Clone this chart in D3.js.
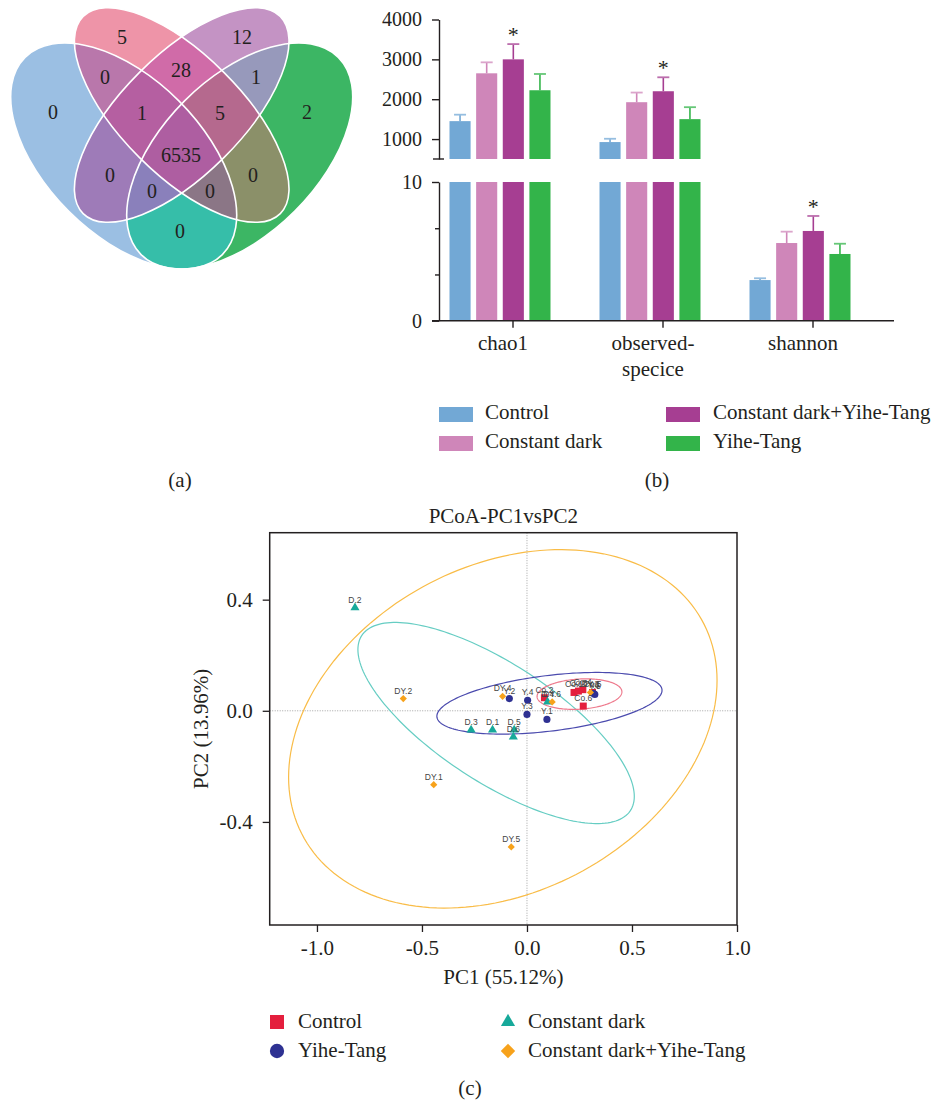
<!DOCTYPE html>
<meta charset="utf-8">
<style>

body {
  margin: 0;
  background: #fff;
}

text {
  font-family: "Liberation Serif", "Times New Roman", serif;
  fill: #231f20;
}

.pt-label {
  font-family: "Liberation Sans", Arial, sans-serif;
  font-size: 8.5px;
  fill: #444;
}

</style>
<svg width="936" height="1100"></svg>
<script src="https://d3js.org/d3.v7.min.js"></script>
<script>

// ---- (a) venn: counts for each region, named by the sets it belongs to
var vennRegions = ["A", "B", "C", "D", "AB", "AC", "AD", "BC", "BD", "CD", "ABC", "ABD", "ACD", "BCD", "ABCD"];
var vennCounts  = [0, 5, 12, 2, 0, 0, 0, 28, 0, 1, 1, 0, 0, 5, 6535];

// ---- (b) alpha diversity
var metrics = ["chao1", "observed-specice", "shannon"];
var metricLines = [["chao1"], ["observed-", "specice"], ["shannon"]];
var groups = ["Control", "Constant dark", "Constant dark+Yihe-Tang", "Yihe-Tang"];
var chao1Mean    = [1450, 2650, 3000, 2225];
var chao1Err     = [162, 275, 383, 408];
var observedMean = [925, 1925, 2200, 1500];
var observedErr  = [83, 242, 350, 300];
var shannonMean  = [2.93, 5.6, 6.47, 4.81];
var shannonErr   = [0.13, 0.82, 1.08, 0.74];
var starGroup = "Constant dark+Yihe-Tang";

// ---- (c) PCoA samples
var sampleNames = ["Co.1", "Co.2", "Co.3", "Co.4", "Co.5", "Co.6",
                   "Y.1", "Y.2", "Y.3", "Y.4", "Y.5", "Y.6",
                   "D.1", "D.2", "D.3", "D.4", "D.5", "D.6",
                   "DY.1", "DY.2", "DY.3", "DY.4", "DY.5", "DY.6"];
var sampleGroup = ["Control", "Control", "Control", "Control", "Control", "Control",
                   "Yihe-Tang", "Yihe-Tang", "Yihe-Tang", "Yihe-Tang", "Yihe-Tang", "Yihe-Tang",
                   "Constant dark", "Constant dark", "Constant dark", "Constant dark", "Constant dark", "Constant dark",
                   "Constant dark+Yihe-Tang", "Constant dark+Yihe-Tang", "Constant dark+Yihe-Tang",
                   "Constant dark+Yihe-Tang", "Constant dark+Yihe-Tang", "Constant dark+Yihe-Tang"];
var pc1 = [0.224, 0.083, 0.245, 0.266, 0.312, 0.268,
           0.095, -0.084, 0.0, 0.003, 0.323, 0.316,
           -0.164, -0.819, -0.266, 0.098, -0.061, -0.065,
           -0.444, -0.589, 0.302, -0.116, -0.075, 0.12];
var pc2 = [0.066, 0.047, 0.071, 0.076, 0.066, 0.017,
           -0.031, 0.044, -0.013, 0.038, 0.059, 0.063,
           -0.069, 0.371, -0.069, 0.032, -0.069, -0.094,
           -0.266, 0.044, 0.066, 0.052, -0.49, 0.032];

// confidence ellipses: centre, half ranges and correlation
var ellipseGroups = ["Constant dark+Yihe-Tang", "Constant dark", "Yihe-Tang", "Control"];
var ellipseCx = [-0.115, -0.147, 0.107, 0.25];
var ellipseCy = [-0.065, -0.044, 0.027, 0.06];
var ellipseSx = [1.02, 0.658, 0.536, 0.202];
var ellipseSy = [0.645, 0.362, 0.111, 0.055];
var ellipseR  = [0.27, -0.73, 0.42, 0.15];

var svg = d3.select("svg");

// =================== (a) Venn ===================

var vennShape = {
  A: {cx: 123.7, cy: 156, rx: 139.5, ry: 78, rot: 45},
  B: {cx: 181.7, cy: 115, rx: 139.4, ry: 60, rot: 45},
  C: {cx: 181.7, cy: 115, rx: 139.4, ry: 60, rot: -45},
  D: {cx: 239.7, cy: 156, rx: 139.5, ry: 78, rot: -45}
};
var vennFill = {
  A: "#9bbfe3", B: "#ee94a8", C: "#c493c4", D: "#3cb664",
  AB: "#b977ab", AC: "#9e7bb8", AD: "#36bea9", BC: "#d06ba8", BD: "#8b9069", CD: "#9799bb",
  ABC: "#b55fa1", ABD: "#8b7686", ACD: "#8a80bb", BCD: "#b5698e", ABCD: "#ae5ea1"
};
var vennLabelPos = {
  A: [53, 112], B: [122, 37], C: [242, 37], D: [307, 112],
  AB: [105, 77], AC: [110, 175], AD: [180, 231], BC: [181, 70], BD: [253, 175], CD: [256, 77],
  ABC: [142, 113], ABD: [210, 191], ACD: [152, 191], BCD: [220, 113], ABCD: [181, 155]
};

var defs = svg.append("defs");
var setKeys = ["A", "B", "C", "D"];

function placeEllipse(sel, s) {
  return sel.attr("cx", 0).attr("cy", 0)
      .attr("rx", s.rx).attr("ry", s.ry)
      .attr("transform", "translate(" + s.cx + "," + s.cy + ") rotate(" + s.rot + ")");
}

setKeys.forEach(function(k) {
  placeEllipse(defs.append("clipPath").attr("id", "clip-" + k).append("ellipse"), vennShape[k]);
});

var venn = svg.append("g").attr("class", "venn");

// painter's order: singles, then pairs, triples, all four
vennRegions.forEach(function(key) {
  var g = venn;
  key.split("").forEach(function(s) {
    g = g.append("g").attr("clip-path", "url(#clip-" + s + ")");
  });
  g.append("rect")
      .attr("x", 0).attr("y", 0)
      .attr("width", 380).attr("height", 290)
      .attr("fill", vennFill[key]);
});

setKeys.forEach(function(k) {
  placeEllipse(venn.append("ellipse"), vennShape[k])
      .attr("fill", "none")
      .attr("stroke", "#fff")
      .attr("stroke-width", 1.6);
});

venn.selectAll("text.count")
  .data(vennRegions)
  .enter().append("text")
    .attr("class", "count")
    .attr("x", function(d) { return vennLabelPos[d][0]; })
    .attr("y", function(d) { return vennLabelPos[d][1]; })
    .attr("dy", "0.35em")
    .attr("text-anchor", "middle")
    .style("font-size", "20px")
    .text(function(d, i) { return vennCounts[i]; });

svg.append("text").attr("x", 180).attr("y", 487).attr("text-anchor", "middle")
    .style("font-size", "21px").text("(a)");

// =================== (b) bars ===================

var barColor = d3.scaleOrdinal()
    .domain(groups)
    .range(["#72a8d5", "#cf86b9", "#a63e92", "#33b44a"]);

var means = [chao1Mean, observedMean, shannonMean];
var errs = [chao1Err, observedErr, shannonErr];
var rows = [];
metrics.forEach(function(m, i) {
  groups.forEach(function(g, j) {
    rows.push({metric: m, group: g, mean: means[i][j], err: errs[i][j]});
  });
});

var yHi = d3.scaleLinear().domain([500, 4000]).range([159, 19.5]);
var yLo = d3.scaleLinear().domain([0, 10]).range([320.7, 182]);

var x0 = d3.scaleBand().domain(metrics).range([425, 875]);
var x1 = d3.scaleBand().domain(groups).range([0, 101]).paddingInner(0.208);
var groupShift = (x0.bandwidth() - 101) / 2;

var bars = svg.append("g").attr("class", "bars");

function barX(d) { return x0(d.metric) + groupShift + x1(d.group); }
function isBig(d) { return d.mean > 10; }
function scaleFor(d) { return isBig(d) ? yHi : yLo; }

// lower (0-10) segment
bars.selectAll("rect.lo")
  .data(rows)
  .enter().append("rect")
    .attr("class", "lo")
    .attr("x", barX)
    .attr("width", x1.bandwidth())
    .attr("y", function(d) { return yLo(Math.min(d.mean, 10)); })
    .attr("height", function(d) { return yLo(0) - yLo(Math.min(d.mean, 10)); })
    .attr("fill", function(d) { return barColor(d.group); });

// upper (500-4000) segment
bars.selectAll("rect.hi")
  .data(rows.filter(isBig))
  .enter().append("rect")
    .attr("class", "hi")
    .attr("x", barX)
    .attr("width", x1.bandwidth())
    .attr("y", function(d) { return yHi(d.mean); })
    .attr("height", function(d) { return yHi(500) - yHi(d.mean); })
    .attr("fill", function(d) { return barColor(d.group); });

var err = bars.selectAll("g.err")
  .data(rows)
  .enter().append("g")
    .attr("class", "err")
    .attr("transform", function(d) { return "translate(" + (barX(d) + x1.bandwidth() / 2) + ",0)"; });

err.append("line")
    .attr("y1", function(d) { return scaleFor(d)(d.mean); })
    .attr("y2", function(d) { return scaleFor(d)(d.mean + d.err); })
    .attr("stroke", function(d) { return barColor(d.group); })
    .attr("stroke-width", 1.6);

err.append("line")
    .attr("x1", -6).attr("x2", 6)
    .attr("y1", function(d) { return scaleFor(d)(d.mean + d.err); })
    .attr("y2", function(d) { return scaleFor(d)(d.mean + d.err); })
    .attr("stroke", function(d) { return d3.interpolateRgb(barColor(d.group), "#fff")(0.25); })
    .attr("stroke-width", 1.8);

err.filter(function(d) { return d.group === starGroup; })
  .append("text")
    .attr("y", function(d) { return scaleFor(d)(d.mean + d.err) - 2; })
    .attr("text-anchor", "middle")
    .style("font-size", "22px")
    .text("*");

// axes
var axisFont = function(g) {
  g.attr("font-family", null).attr("font-size", null);
  g.selectAll("text").style("font-size", "20px").attr("fill", "#231f20");
  g.selectAll("line, path").attr("stroke", "#231f20").attr("stroke-width", 1.4);
};

svg.append("g")
    .attr("transform", "translate(439,0)")
    .call(d3.axisLeft(yHi).tickValues([1000, 2000, 3000, 4000]).tickFormat(d3.format("d"))
      .tickSize(7).tickSizeOuter(0).tickPadding(10))
    .call(axisFont);

svg.append("g")
    .attr("transform", "translate(439,0)")
    .call(d3.axisLeft(yLo).tickValues([0, 10]).tickFormat(d3.format("d"))
      .tickSize(7).tickSizeOuter(0).tickPadding(10))
    .call(axisFont);

svg.append("g")
    .attr("transform", "translate(439,0)")
    .call(d3.axisLeft(yLo).tickValues([10 / 3, 20 / 3]).tickSize(4).tickFormat("").tickSizeOuter(0))
    .call(axisFont)
    .select(".domain").remove();

// break mark at the bottom of the upper segment
svg.append("line")
    .attr("x1", 433).attr("x2", 444)
    .attr("y1", yHi(500)).attr("y2", yHi(500))
    .attr("stroke", "#231f20").attr("stroke-width", 1.4);

// x axis
svg.append("line")
    .attr("x1", 432).attr("x2", 894)
    .attr("y1", yLo(0)).attr("y2", yLo(0))
    .attr("stroke", "#231f20").attr("stroke-width", 1.6);

var xCat = svg.append("g").selectAll("g")
  .data(metrics)
  .enter().append("g")
    .attr("transform", function(d) { return "translate(" + (x0(d) + x0.bandwidth() / 2) + "," + yLo(0) + ")"; });

xCat.append("line")
    .attr("x1", 13).attr("x2", 13)
    .attr("y1", 0).attr("y2", 7)
    .attr("stroke", "#231f20").attr("stroke-width", 1.4);

xCat.each(function(d, i) {
  var t = d3.select(this).append("text")
      .attr("x", 3)
      .attr("y", 29)
      .attr("text-anchor", "middle")
      .style("font-size", "21px");
  metricLines[i].forEach(function(line, k) {
    t.append("tspan").attr("x", 3).attr("dy", k ? 26 : 0).text(line);
  });
});

// legend (b)
var legB = svg.append("g").selectAll("g")
  .data(groups)
  .enter().append("g")
    .attr("transform", function(d, i) {
      var col = (i === 0 || i === 1) ? 0 : 1;
      var row = (i === 0 || i === 2) ? 0 : 1;
      return "translate(" + (col ? 666 : 439) + "," + (407 + row * 29) + ")";
    });

legB.append("rect")
    .attr("width", 34).attr("height", 15)
    .attr("fill", function(d) { return barColor(d); });

legB.append("text")
    .attr("x", function(d, i) { return (i === 0 || i === 1) ? 46 : 47; })
    .attr("y", 12)
    .style("font-size", "21px")
    .text(function(d) { return d; });

svg.append("text").attr("x", 657).attr("y", 487).attr("text-anchor", "middle")
    .style("font-size", "21px").text("(b)");

// =================== (c) PCoA ===================

var px = d3.scaleLinear().domain([-1.225, 1.0]).range([269.7, 737]);
var py = d3.scaleLinear().domain([-0.771, 0.641]).range([925, 532.7]);

var ptColor = d3.scaleOrdinal()
    .domain(["Control", "Yihe-Tang", "Constant dark", "Constant dark+Yihe-Tang"])
    .range(["#e41f3d", "#2e3192", "#17a99a", "#f7a21b"]);
var ringColor = d3.scaleOrdinal()
    .domain(["Control", "Yihe-Tang", "Constant dark", "Constant dark+Yihe-Tang"])
    .range(["#ee7a8d", "#4b4bae", "#66cdc3", "#f9bc47"]);

function shapeFor(g, big) {
  var k = big ? 4 : 1;
  if (g === "Control") return d3.symbol(d3.symbolSquare, 49 * k)();
  if (g === "Yihe-Tang") return d3.symbol(d3.symbolCircle, 40 * k)();
  if (g === "Constant dark") return d3.symbol(d3.symbolTriangle, 36 * (big ? 2.4 : 1))();
  return d3.symbol(d3.symbolSquare, 26 * (big ? 4 : 1))();
}
function shapeRot(g) { return g === "Constant dark+Yihe-Tang" ? " rotate(45)" : ""; }

var plot = svg.append("g");

plot.append("text")
    .attr("x", (px.range()[0] + px.range()[1]) / 2)
    .attr("y", 523)
    .attr("text-anchor", "middle")
    .style("font-size", "21px")
    .text("PCoA-PC1vsPC2");

// zero reference lines
plot.append("line")
    .attr("x1", px(0)).attr("x2", px(0))
    .attr("y1", py.range()[1]).attr("y2", py.range()[0])
    .attr("stroke", "#9a9a9a").attr("stroke-width", 0.9).attr("stroke-dasharray", "1,1.5");
plot.append("line")
    .attr("x1", px.range()[0]).attr("x2", px.range()[1])
    .attr("y1", py(0)).attr("y2", py(0))
    .attr("stroke", "#9a9a9a").attr("stroke-width", 0.9).attr("stroke-dasharray", "1,1.5");

// ellipses
var ellipseLine = d3.line()
    .x(function(p) { return px(p[0]); })
    .y(function(p) { return py(p[1]); })
    .curve(d3.curveLinearClosed);

var angles = d3.range(0, 2 * Math.PI, Math.PI / 90);
ellipseGroups.forEach(function(g, i) {
  var r = ellipseR[i];
  var pts = angles.map(function(t) {
    return [ellipseCx[i] + ellipseSx[i] * Math.cos(t),
            ellipseCy[i] + ellipseSy[i] * (r * Math.cos(t) + Math.sqrt(1 - r * r) * Math.sin(t))];
  });
  plot.append("path")
      .attr("d", ellipseLine(pts))
      .attr("fill", "none")
      .attr("stroke", ringColor(g))
      .attr("stroke-width", 1.2);
});

var samples = sampleNames.map(function(n, i) {
  return {name: n, group: sampleGroup[i], x: pc1[i], y: pc2[i]};
});

plot.selectAll("path.pt")
  .data(samples)
  .enter().append("path")
    .attr("class", "pt")
    .attr("d", function(d) { return shapeFor(d.group, false); })
    .attr("transform", function(d) { return "translate(" + px(d.x) + "," + py(d.y) + ")" + shapeRot(d.group); })
    .attr("fill", function(d) { return ptColor(d.group); });

plot.selectAll("text.pt-label")
  .data(samples)
  .enter().append("text")
    .attr("class", "pt-label")
    .attr("x", function(d) { return px(d.x); })
    .attr("y", function(d) { return py(d.y) - 5; })
    .attr("text-anchor", "middle")
    .text(function(d) { return d.name; });

// frame
plot.append("rect")
    .attr("x", px.range()[0]).attr("y", py.range()[1])
    .attr("width", px.range()[1] - px.range()[0])
    .attr("height", py.range()[0] - py.range()[1])
    .attr("fill", "none").attr("stroke", "#231f20").attr("stroke-width", 1.5);

var fmt = function(d) { return d.toFixed(1); };

plot.append("g")
    .attr("transform", "translate(0," + py.range()[0] + ")")
    .call(d3.axisBottom(px).tickValues([-1, -0.5, 0, 0.5, 1]).tickFormat(fmt).tickSize(7).tickSizeOuter(0).tickPadding(8))
    .call(function(g) {
      g.attr("font-family", null).attr("font-size", null);
      g.select(".domain").remove();
      g.selectAll("text").style("font-size", "21px").attr("fill", "#231f20");
      g.selectAll("line").attr("stroke", "#231f20").attr("stroke-width", 1.3);
    });

plot.append("g")
    .attr("transform", "translate(" + px.range()[0] + ",0)")
    .call(d3.axisLeft(py).tickValues([-0.4, 0, 0.4]).tickFormat(fmt).tickSize(7).tickSizeOuter(0).tickPadding(10))
    .call(function(g) {
      g.attr("font-family", null).attr("font-size", null);
      g.select(".domain").remove();
      g.selectAll("text").style("font-size", "21px").attr("fill", "#231f20");
      g.selectAll("line").attr("stroke", "#231f20").attr("stroke-width", 1.3);
    });

plot.append("text")
    .attr("x", (px.range()[0] + px.range()[1]) / 2)
    .attr("y", 984)
    .attr("text-anchor", "middle")
    .style("font-size", "21px")
    .text("PC1 (55.12%)");

plot.append("text")
    .attr("transform", "translate(208," + (py.range()[0] + py.range()[1]) / 2 + ") rotate(-90)")
    .attr("text-anchor", "middle")
    .style("font-size", "21px")
    .text("PC2 (13.96%)");

// legend (c)
var legGroups = ["Control", "Yihe-Tang", "Constant dark", "Constant dark+Yihe-Tang"];
var legC = svg.append("g").selectAll("g")
  .data(legGroups)
  .enter().append("g")
    .attr("transform", function(d, i) {
      return "translate(" + (i < 2 ? 277 : 508) + "," + (1022 + (i % 2) * 29) + ")";
    });

legC.append("path")
    .attr("d", function(d) { return shapeFor(d, true); })
    .attr("transform", function(d) { return d === "Constant dark+Yihe-Tang" ? "rotate(45)" : null; })
    .attr("fill", function(d) { return ptColor(d); });

legC.append("text")
    .attr("x", function(d, i) { return i < 2 ? 21 : 20; })
    .attr("y", 6)
    .style("font-size", "21px")
    .text(function(d) { return d; });

svg.append("text").attr("x", 470).attr("y", 1095).attr("text-anchor", "middle")
    .style("font-size", "21px").text("(c)");

</script>
